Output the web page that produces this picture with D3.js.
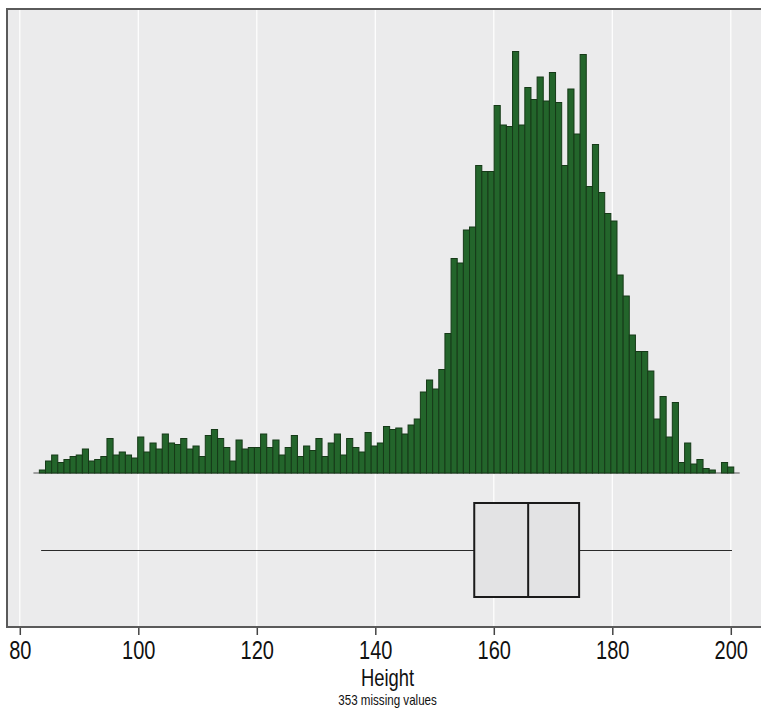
<!DOCTYPE html>
<html>
<head>
<meta charset="utf-8">
<script src="https://cdn.jsdelivr.net/npm/d3@7"></script>
<style>
  html, body { margin: 0; padding: 0; background: #ffffff; }
  svg { display: block; }
  text { font-family: "Liberation Sans", Arial, Helvetica, sans-serif; fill: #111; }
</style>
</head>
<body>
<svg id="chart" width="761" height="710"></svg>
<script>
// Histogram of height (113 equal-width bins), with a box plot beneath it
const binStart = 83.3;
const binEnd = 200.5;
const binCounts = [
  2, 8, 12, 7, 9, 11, 12, 16, 8, 9,
  11, 23, 12, 14, 12, 10, 24, 14, 20, 16,
  26, 20, 19, 23, 16, 18, 11, 25, 29, 23,
  17, 8, 22, 16, 17, 17, 26, 17, 22, 12,
  17, 25, 11, 18, 15, 23, 11, 20, 26, 12,
  23, 17, 14, 27, 18, 20, 31, 29, 30, 26,
  32, 36, 54, 62, 56, 69, 93, 143, 140, 162,
  164, 205, 201, 201, 245, 232, 231, 281, 232, 257,
  249, 264, 248, 267, 247, 205, 256, 226, 279, 191,
  219, 187, 173, 168, 132, 118, 92, 81, 81, 68,
  36, 51, 24, 47, 7, 20, 6, 9, 3, 2,
  0, 7, 4
];
// Five-number summary used by the box plot
const boxStats = { min: 83.6, q1: 156.7, median: 165.8, q3: 174.4, max: 200.2 };
const xTicks = [80, 100, 120, 140, 160, 180, 200];
const xTitle = "Height";
const note = "353 missing values";

const svg = d3.select("#chart");
const narrow = 0.8; // horizontal squeeze giving a condensed face

// Panel geometry
const panel = { left: 7, top: 9, right: 766, bottom: 627 };
const x = d3.scaleLinear().domain([80, 200]).range([19.8, 730.8]);
const y = d3.scaleLinear().domain([0, 300]).range([473, 23]);

const binWidth = (binEnd - binStart) / binCounts.length;
const bins = binCounts.map((c, i) => ({
  x0: binStart + i * binWidth,
  x1: binStart + (i + 1) * binWidth,
  count: c
}));

// Panel background
svg.append("rect")
  .attr("x", panel.left).attr("y", panel.top)
  .attr("width", panel.right - panel.left)
  .attr("height", panel.bottom - panel.top)
  .attr("fill", "#ebebec");

// Vertical grid lines
svg.append("g").selectAll("line")
  .data(xTicks)
  .join("line")
  .attr("x1", d => x(d)).attr("x2", d => x(d))
  .attr("y1", panel.top).attr("y2", panel.bottom)
  .attr("stroke", "#ffffff")
  .attr("stroke-width", 1.2);

// Histogram baseline
svg.append("line")
  .attr("x1", x(82.3)).attr("x2", x(201.5))
  .attr("y1", y(0)).attr("y2", y(0))
  .attr("stroke", "#555")
  .attr("stroke-width", 1.2);

// Histogram bars
svg.append("g").selectAll("rect")
  .data(bins)
  .join("rect")
  .attr("x", d => x(d.x0))
  .attr("width", d => x(d.x1) - x(d.x0))
  .attr("y", d => y(d.count))
  .attr("height", d => y(0) - y(d.count))
  .attr("fill", "#23652b")
  .attr("stroke", "#163a18")
  .attr("stroke-width", 1);

// Box plot
const boxTop = 503, boxBottom = 597, boxMid = 550.5;
const box = svg.append("g");
box.append("line")
  .attr("x1", x(boxStats.min)).attr("x2", x(boxStats.q1))
  .attr("y1", boxMid).attr("y2", boxMid)
  .attr("stroke", "#2a2a2a").attr("stroke-width", 1);
box.append("line")
  .attr("x1", x(boxStats.q3)).attr("x2", x(boxStats.max))
  .attr("y1", boxMid).attr("y2", boxMid)
  .attr("stroke", "#2a2a2a").attr("stroke-width", 1);
box.append("rect")
  .attr("x", x(boxStats.q1)).attr("y", boxTop)
  .attr("width", x(boxStats.q3) - x(boxStats.q1))
  .attr("height", boxBottom - boxTop)
  .attr("fill", "#e3e3e4")
  .attr("stroke", "#1a1a1a").attr("stroke-width", 2);
box.append("line")
  .attr("x1", x(boxStats.median)).attr("x2", x(boxStats.median))
  .attr("y1", boxTop).attr("y2", boxBottom)
  .attr("stroke", "#1a1a1a").attr("stroke-width", 2);

// Panel frame
svg.append("rect")
  .attr("x", panel.left).attr("y", panel.top)
  .attr("width", panel.right - panel.left)
  .attr("height", panel.bottom - panel.top)
  .attr("fill", "none")
  .attr("stroke", "#5a5a5a")
  .attr("stroke-width", 2);

// X axis
const axis = d3.axisBottom(x)
  .tickValues(xTicks)
  .tickSize(7)
  .tickPadding(6)
  .tickFormat(d3.format("d"));
const ax = svg.append("g")
  .attr("transform", `translate(0,${panel.bottom + 1})`)
  .call(axis);
ax.select(".domain").remove();
ax.selectAll(".tick line").attr("stroke", "#444").attr("stroke-width", 1.5);
ax.selectAll(".tick text")
  .attr("font-size", 25)
  .attr("transform", `scale(${narrow},1)`)
  .attr("fill", "#111");

// Titles
const titleX = (x(140) + x(160)) / 2 - 47;
svg.append("text")
  .attr("transform", `translate(${titleX},686) scale(${narrow},1)`)
  .attr("text-anchor", "middle")
  .attr("font-size", 23)
  .text(xTitle);
svg.append("text")
  .attr("transform", `translate(${titleX},705) scale(${narrow},1)`)
  .attr("text-anchor", "middle")
  .attr("font-size", 14.5)
  .text(note);
</script>
</body>
</html>
